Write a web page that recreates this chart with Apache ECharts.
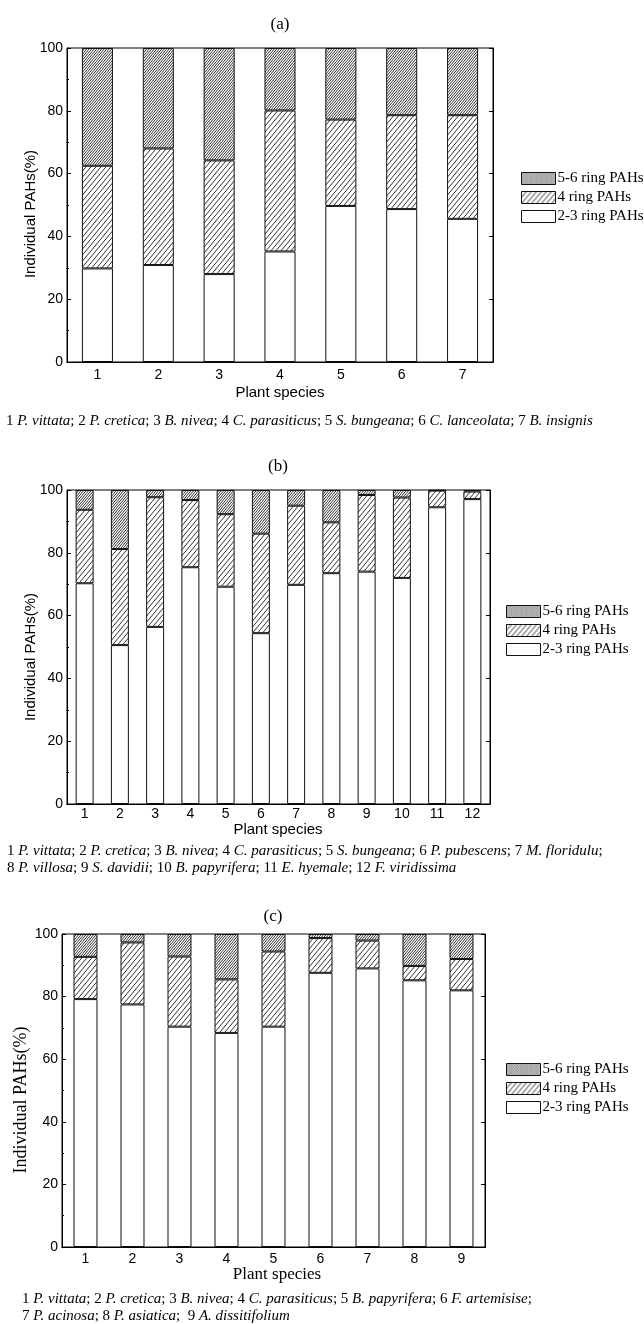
<!DOCTYPE html>
<html>
<head>
<meta charset="utf-8">
<script src="https://cdn.jsdelivr.net/npm/echarts@6/dist/echarts.min.js"></script>
<style>
  html, body { margin: 0; padding: 0; background: #fff; }
  #chart { width: 644px; height: 1324px; }
</style>
</head>
<body>
<div id="chart"></div>
<script>
// panel (a)
const catsA = ['1', '2', '3', '4', '5', '6', '7']
const ring23A = [29.8, 30.9, 28.0, 35.2, 49.7, 48.7, 45.6]
const ring4A = [32.7, 37.1, 36.2, 44.9, 27.5, 29.9, 33.0]
const ring56A = [37.5, 32.0, 35.8, 19.9, 22.8, 21.4, 21.4]

// panel (b)
const catsB = ['1', '2', '3', '4', '5', '6', '7', '8', '9', '10', '11', '12']
const ring23B = [70.3, 50.6, 56.4, 75.4, 69.2, 54.4, 69.8, 73.5, 74.0, 72.0, 94.5, 97.1]
const ring4B = [23.4, 30.6, 41.3, 21.4, 23.1, 31.7, 25.2, 16.2, 24.4, 25.6, 5.3, 2.4]
const ring56B = [6.3, 18.8, 2.3, 3.2, 7.7, 13.9, 5.0, 10.3, 1.6, 2.4, 0.2, 0.5]

// panel (c)
const catsC = ['1', '2', '3', '4', '5', '6', '7', '8', '9']
const ring23C = [79.2, 77.5, 70.4, 68.4, 70.4, 87.6, 89.0, 85.2, 82.0]
const ring4C = [13.5, 19.8, 22.4, 17.1, 24.0, 11.1, 8.9, 4.6, 10.0]
const ring56C = [7.3, 2.7, 7.2, 14.5, 5.6, 1.3, 2.1, 10.2, 8.0]

const yTicks = [0, 20, 40, 60, 80, 100]
const seriesNames = ['2-3 ring PAHs', '4 ring PAHs', '5-6 ring PAHs']

const speciesA = ['P. vittata', 'P. cretica', 'B. nivea', 'C. parasiticus', 'S. bungeana', 'C. lanceolata', 'B. insignis']
const speciesB = ['P. vittata', 'P. cretica', 'B. nivea', 'C. parasiticus', 'S. bungeana', 'P. pubescens', 'M. floridulu',
  'P. villosa', 'S. davidii', 'B. papyrifera', 'E. hyemale', 'F. viridissima']
const speciesC = ['P. vittata', 'P. cretica', 'B. nivea', 'C. parasiticus', 'B. papyrifera', 'F. artemisise',
  'P. acinosa', 'P. asiatica', 'A. dissitifolium']

const SANS = 'Liberation Sans'
const SERIF = 'Liberation Serif'

// diagonal "/" hatching tile
function hatch(w, h, lines, lw) {
  const c = document.createElement('canvas')
  c.width = w; c.height = h
  const g = c.getContext('2d')
  g.fillStyle = '#fff'
  g.fillRect(0, 0, w, h)
  g.strokeStyle = '#1a1a1a'
  g.lineWidth = lw
  const step = w / lines
  for (let k = -lines - 1; k <= lines + 1; k++) {
    g.beginPath()
    g.moveTo(k * step, h)
    g.lineTo(k * step + w, 0)
    g.stroke()
  }
  return c
}

const fill23 = '#ffffff'
const fill4 = { image: hatch(5, 6, 1, 0.9), repeat: 'repeat' }
const fill56 = { image: hatch(5, 6, 2, 0.9), repeat: 'repeat' }
const fills = [fill23, fill4, fill56]

const panels = [
  { cats: catsA, vals: [ring23A, ring4A, ring56A], grid: { left: 67, top: 48, width: 426, height: 314 },
    legend: { left: 516, top: 166 }, labelMargin: 6 },
  { cats: catsB, vals: [ring23B, ring4B, ring56B], grid: { left: 67, top: 490, width: 423, height: 314 },
    legend: { left: 501, top: 599 }, labelMargin: 3 },
  { cats: catsC, vals: [ring23C, ring4C, ring56C], grid: { left: 62, top: 934, width: 423, height: 313 },
    legend: { left: 501, top: 1057 }, labelMargin: 5 }
]

const grid = [], xAxis = [], yAxis = [], series = [], legend = []

panels.forEach((p, i) => {
  grid.push({ ...p.grid, show: true, borderColor: '#000', borderWidth: 1, backgroundColor: 'transparent' })
  xAxis.push({
    type: 'category', data: p.cats, gridIndex: i, position: 'bottom',
    axisLine: { lineStyle: { color: '#000', width: 1 } },
    axisTick: { inside: true, length: 3, lineStyle: { color: '#000' } },
    axisLabel: { color: '#000', fontFamily: SANS, fontSize: 14, margin: p.labelMargin }
  })
  xAxis.push({
    type: 'category', data: p.cats, gridIndex: i, position: 'top',
    axisLine: { lineStyle: { color: '#000', width: 1 } },
    axisTick: { inside: true, length: 3, lineStyle: { color: '#000' } },
    axisLabel: { show: false }
  })
  yAxis.push({
    type: 'value', gridIndex: i, min: yTicks[0], max: yTicks[yTicks.length - 1], interval: 20, position: 'left',
    axisLine: { show: true, lineStyle: { color: '#000', width: 1 } },
    axisTick: { show: true, inside: true, length: 4, lineStyle: { color: '#000' } },
    minorTick: { show: true, splitNumber: 2, length: 2, lineStyle: { color: '#000' } },
    splitLine: { show: false },
    axisLabel: { color: '#000', fontFamily: SANS, fontSize: 14, margin: 4 }
  })
  yAxis.push({
    type: 'value', gridIndex: i, min: yTicks[0], max: yTicks[yTicks.length - 1], interval: 20, position: 'right',
    axisLine: { show: true, lineStyle: { color: '#000', width: 1 } },
    axisTick: { show: true, inside: true, length: 4, lineStyle: { color: '#000' } },
    splitLine: { show: false },
    axisLabel: { show: false }
  })
  seriesNames.forEach((name, k) => {
    series.push({
      name, type: 'bar', stack: 'p' + i,
      xAxisIndex: i * 2, yAxisIndex: i * 2,
      data: p.vals[k],
      barWidth: '51%',
      itemStyle: { color: fills[k], borderColor: '#111', borderWidth: 1 },
      emphasis: { disabled: true },
      animation: false
    })
  })
  legend.push({
    ...p.legend, orient: 'vertical',
    data: ['5-6 ring PAHs', '4 ring PAHs', '2-3 ring PAHs'],
    icon: 'rect', itemWidth: 34, itemHeight: 12, itemGap: 4,
    itemStyle: { borderColor: '#111', borderWidth: 1 },
    textStyle: { color: '#000', fontFamily: SERIF, fontSize: 15, padding: [0, 0, 0, -3] },
    selectedMode: false
  })
})

function captionText(list, start, end) {
  return list.slice(start, end).map((s, j) => (start + j + 1) + ' {i|' + s + '}').join('; ')
}

const capStyle = { fontFamily: SERIF, fontSize: 15, fill: '#000',
  rich: { i: { fontFamily: SERIF, fontSize: 15, fontStyle: 'italic', fill: '#000' } } }

function txt(text, x, y, opts) {
  return { type: 'text', x, y, rotation: opts.rotation || 0,
    style: { text, x: 0, y: 0, align: opts.align || 'center', verticalAlign: 'middle',
      fontFamily: opts.family || SANS, fontSize: opts.size || 15, fill: '#000', ...(opts.style || {}) } }
}

const graphic = [
  txt('(a)', 280, 25, { family: SERIF, size: 17 }),
  txt('(b)', 278, 467, { family: SERIF, size: 17 }),
  txt('(c)', 273, 917, { family: SERIF, size: 17 }),
  txt('Individual PAHs(%)', 31, 214, { size: 15, rotation: Math.PI / 2 }),
  txt('Individual PAHs(%)', 31, 657, { size: 15, rotation: Math.PI / 2 }),
  txt('Individual PAHs(%)', 21, 1100, { family: SERIF, size: 18, rotation: Math.PI / 2 }),
  txt('Plant species', 280, 393, { size: 15 }),
  txt('Plant species', 278, 830, { size: 15 }),
  txt('Plant species', 277, 1275, { family: SERIF, size: 17 }),
  txt(captionText(speciesA, 0, 7), 6, 421, { align: 'left', style: capStyle }),
  txt(captionText(speciesB, 0, 7) + ';', 7, 851, { align: 'left', style: capStyle }),
  txt(captionText(speciesB, 7, 12), 7, 868, { align: 'left', style: capStyle }),
  txt(captionText(speciesC, 0, 6) + ';', 22, 1299, { align: 'left', style: capStyle }),
  txt('7 {i|P. acinosa}; 8 {i|P. asiatica};  9 {i|A. dissitifolium}', 22, 1316, { align: 'left', style: capStyle })
]

const chart = echarts.init(document.getElementById('chart'), null, { renderer: 'canvas' })
chart.setOption({
  backgroundColor: '#fff',
  animation: false,
  grid, xAxis, yAxis, series, legend, graphic
})
</script>
</body>
</html>
